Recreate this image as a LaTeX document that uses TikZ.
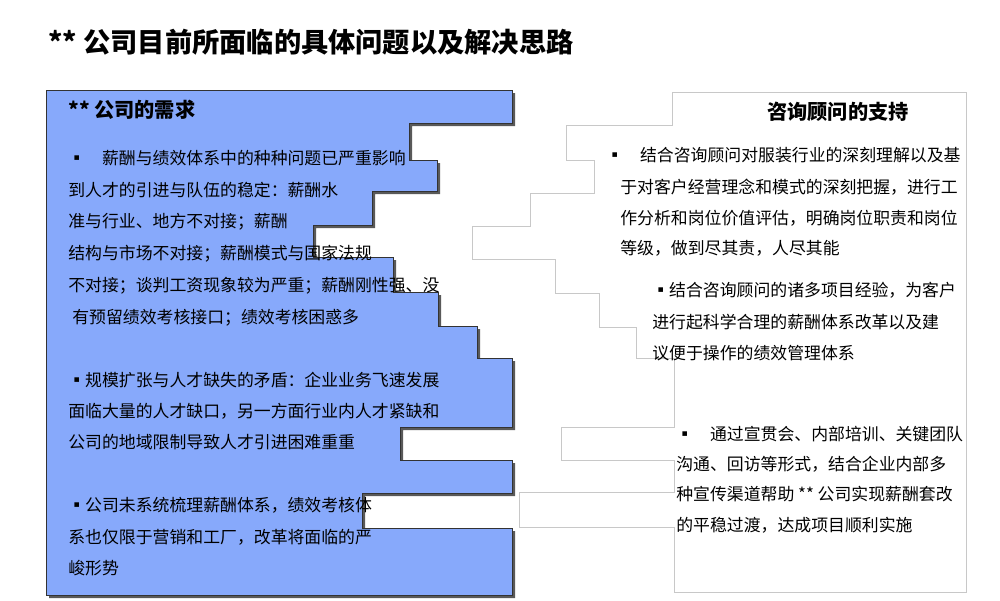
\documentclass[tikz,border=0pt]{standalone}
\usepackage{fontspec}
\setmainfont{Noto Sans CJK SC}
\usetikzlibrary{positioning}
\definecolor{needblue}{HTML}{87A9FB}
\definecolor{edgegray}{HTML}{C8C8C8}
\begin{document}
\begin{tikzpicture}[x=0.02cm,y=-0.02cm]
\tikzstyle{txt}=[anchor=west, inner sep=0pt, font=\fontsize{9.6pt}{11pt}\selectfont]
\tikzstyle{head}=[inner sep=0pt, font=\fontsize{11.5pt}{13pt}\selectfont\bfseries]
\useasboundingbox (0,0) rectangle (1000,600);
% title
\node[inner sep=0pt, anchor=west, font=\fontsize{15.5pt}{17pt}\selectfont\bfseries] (title) at (48,42) {** 公司目前所面临的具体问题以及解决思路};

% left: needs (stair outline)
\path[fill=black!65, shift={(3,3)}] (46,90) -- (512,90) -- (512,123) -- (409,123) -- (409,160) -- (437,160) -- (437,191) -- (372,191) -- (372,225) -- (313,225) -- (313,257) -- (393,257) -- (393,292) -- (438,292) -- (438,326) -- (477,326) -- (477,358) -- (512,358) -- (512,427) -- (400,427) -- (400,460) -- (512,460) -- (512,493) -- (362,493) -- (362,528) -- (512,528) -- (512,595) -- (46,595) -- cycle;
\path[fill=needblue, draw=black!80] (46,90) -- (512,90) -- (512,123) -- (409,123) -- (409,160) -- (437,160) -- (437,191) -- (372,191) -- (372,225) -- (313,225) -- (313,257) -- (393,257) -- (393,292) -- (438,292) -- (438,326) -- (477,326) -- (477,358) -- (512,358) -- (512,427) -- (400,427) -- (400,460) -- (512,460) -- (512,493) -- (362,493) -- (362,528) -- (512,528) -- (512,595) -- (46,595) -- cycle;

% right: support (stair outline)
\path[fill=white, draw=edgegray] (672,92) -- (966,92) -- (966,592) -- (674,592) -- (674,527) -- (519,527) -- (519,492) -- (674,492) -- (674,460) -- (561,460) -- (561,427) -- (674,427) -- (674,358) -- (636,358) -- (636,327) -- (599,327) -- (599,293) -- (555,293) -- (555,259) -- (472,259) -- (472,226) -- (530,226) -- (530,193) -- (594,193) -- (594,160) -- (566,160) -- (566,125) -- (672,125) -- cycle;

% left texts
\node[head, anchor=west] (need_h) at (68,110) {** 公司的需求};
\node[txt] (n_1) at (68,158) {▪\quad 薪酬与绩效体系中的种种问题已严重影响};
\node[txt] (n_2) at (68,190) {到人才的引进与队伍的稳定：薪酬水};
\node[txt] (n_3) at (68,222) {准与行业、地方不对接；薪酬};
\node[txt] (n_4) at (68,254) {结构与市场不对接；薪酬模式与国家法规};
\node[txt] (n_5) at (68,286) {不对接；谈判工资现象较为严重；薪酬刚性强、没};
\node[txt] (n_6) at (72,318) {有预留绩效考核接口；绩效考核困惑多};
\node[txt] (n_7) at (68,380) {▪规模扩张与人才缺失的矛盾：企业业务飞速发展};
\node[txt] (n_8) at (68,411) {面临大量的人才缺口，另一方面行业内人才紧缺和};
\node[txt] (n_9) at (68,442) {公司的地域限制导致人才引进困难重重};
\node[txt] (n_10) at (68,505) {▪公司未系统梳理薪酬体系，绩效考核体};
\node[txt] (n_11) at (68,537) {系也仅限于营销和工厂，改革将面临的严};
\node[txt] (n_12) at (68,568) {峻形势};

% right texts
\node[head] (sup_h) at (838,112) {咨询顾问的支持};
\node[txt] (s_1) at (606,155) {▪\quad 结合咨询顾问对服装行业的深刻理解以及基};
\node[txt] (s_2) at (620,187) {于对客户经营理念和模式的深刻把握，进行工};
\node[txt] (s_3) at (620,218) {作分析和岗位价值评估，明确岗位职责和岗位};
\node[txt] (s_4) at (620,248) {等级，做到尽其责，人尽其能};
\node[txt] (s_5) at (652,290) {▪结合咨询顾问的诸多项目经验，为客户};
\node[txt] (s_6) at (652,322) {进行起科学合理的薪酬体系改革以及建};
\node[txt] (s_7) at (652,353) {议便于操作的绩效管理体系};
\node[txt] (s_8) at (676,434) {▪\quad 通过宣贯会、内部培训、关键团队};
\node[txt] (s_9) at (676,464) {沟通、回访等形式，结合企业内部多};
\node[txt] (s_10) at (676,494) {种宣传渠道帮助 ** 公司实现薪酬套改};
\node[txt] (s_11) at (676,525) {的平稳过渡，达成项目顺利实施};
\end{tikzpicture}
\end{document}
